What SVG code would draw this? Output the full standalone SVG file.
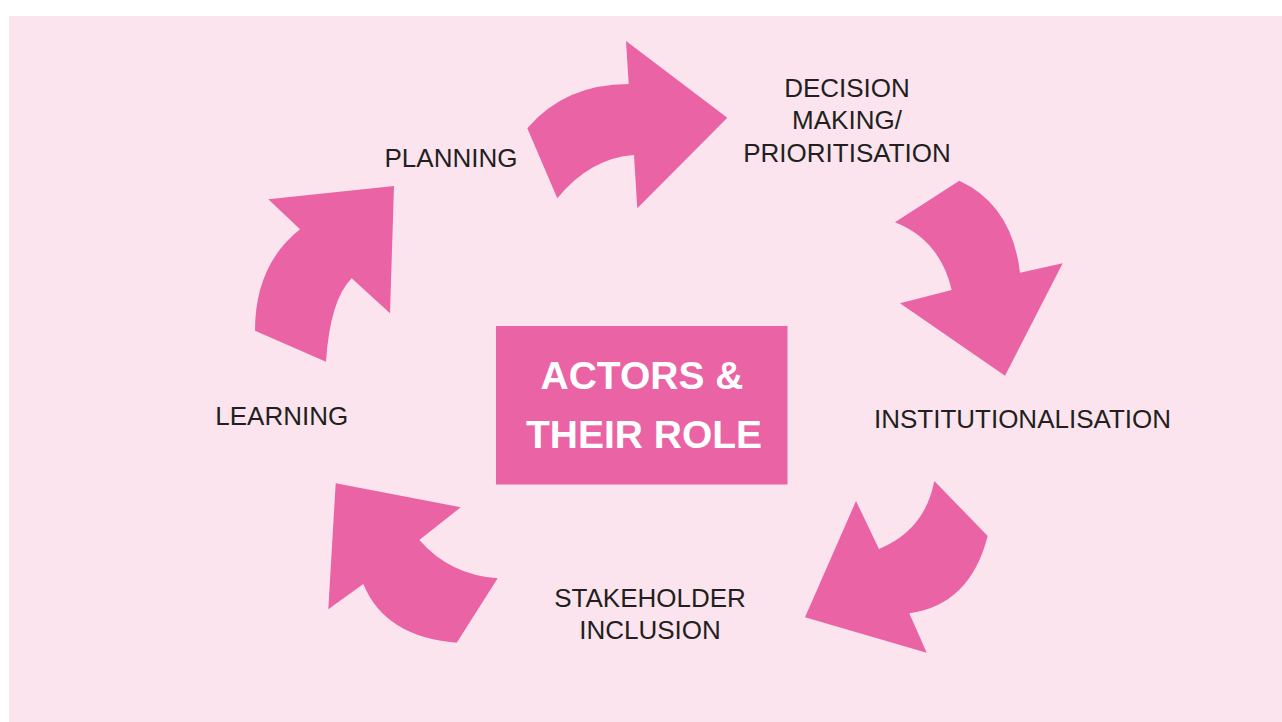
<svg xmlns="http://www.w3.org/2000/svg" width="1282" height="722" viewBox="0 0 1282 722">
  <style>
    .arrow { fill: #e963a5; }
    .label { font-family: "Liberation Sans", Arial, sans-serif; font-size: 26px; fill: #231f20; text-anchor: middle; }
    .title { font-family: "Liberation Sans", Arial, sans-serif; font-size: 39px; font-weight: bold; fill: #ffffff; text-anchor: middle; }
  </style>
  <rect x="0" y="0" width="1282" height="722" fill="#ffffff"/>
  <rect x="9" y="16" width="1273" height="706" fill="#fbe4ee"/>

  <!-- curved cycle arrows -->
  <g id="connectors">
    <path class="arrow" d="M628.7,84 L626,41 L727.3,117.7 L637.3,208.3 L634,155 Q590,158 557.3,198.3 L527.3,128.3 Q565,84 628.7,84 Z"/>
    <path class="arrow" d="M959.3,180.7 Q1012,205 1020,272.7 L1062.7,263.3 L1005,375.7 L900,303.3 L951.7,290 Q940,240 895,222.3 Z"/>
    <path class="arrow" d="M934.3,481 L987.7,536 Q970,605 909.3,613.3 L926.7,652.7 L805,617.3 L856,501 L879,549 Q925,530 934.3,481 Z"/>
    <path class="arrow" d="M335.7,483.3 L460.7,507.3 L419.3,540 Q450,575 497.7,578.3 L456.7,642.7 Q385,637 363.3,584 L328.3,609.3 Z"/>
    <path class="arrow" d="M255,330.7 Q255,265 300,229.3 L268.3,199.3 L394,186 L390,313.3 L351.7,278.3 Q330,300 326,361.7 Z"/>
  </g>

  <g id="center">
    <rect x="496" y="326" width="291.5" height="158.5" fill="#e963a5"/>
    <text class="title" x="642" y="389.3">ACTORS &amp;</text>
    <text class="title" x="644" y="448.3">THEIR ROLE</text>
  </g>

  <g id="planning">
    <text class="label" x="451" y="166.7">PLANNING</text>
  </g>
  <g id="decision-making">
    <text class="label" x="847" y="97.3">DECISION</text>
    <text class="label" x="847" y="129">MAKING/</text>
    <text class="label" x="847" y="161.7">PRIORITISATION</text>
  </g>
  <g id="institutionalisation">
    <text class="label" x="1022.5" y="428.3">INSTITUTIONALISATION</text>
  </g>
  <g id="stakeholder-inclusion">
    <text class="label" x="650" y="607.3">STAKEHOLDER</text>
    <text class="label" x="650" y="638.7">INCLUSION</text>
  </g>
  <g id="learning">
    <text class="label" x="281.7" y="425">LEARNING</text>
  </g>
</svg>
